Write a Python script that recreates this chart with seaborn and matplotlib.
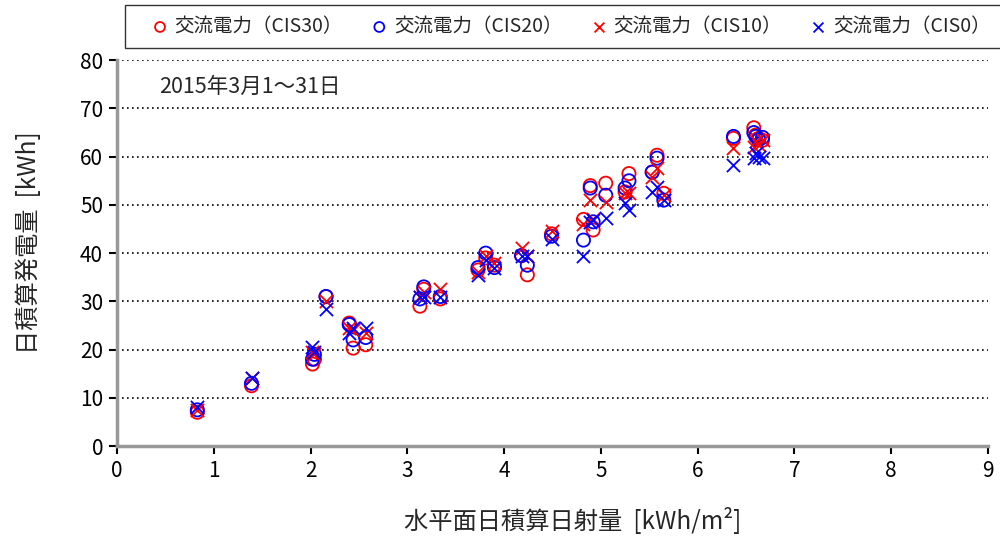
import matplotlib
matplotlib.use("Agg")
import matplotlib.pyplot as plt
import seaborn as sns
import pandas as pd

# Daily horizontal irradiation [kWh/m2], March 2015
irradiation = [0.83, 1.39, 2.02, 2.04, 2.16, 2.40, 2.44, 2.57, 3.13, 3.17, 3.34,
               3.73, 3.81, 3.90, 4.18, 4.24, 4.49, 4.82, 4.89, 4.92, 5.05, 5.25,
               5.29, 5.53, 5.58, 5.65, 6.37, 6.58, 6.60, 6.63, 6.67]
cis30 = [7.0, 12.5, 17.0, 18.0, 31.0, 25.5, 20.3, 21.0, 29.0, 32.5, 30.5,
         36.5, 39.0, 37.5, 39.5, 35.5, 44.0, 47.0, 54.0, 44.8, 54.5, 52.7,
         56.5, 56.8, 60.3, 52.4, 63.8, 66.0, 64.5, 63.8, 63.4]
cis20 = [7.5, 13.0, 18.0, 19.0, 31.0, 25.2, 22.0, 22.5, 30.5, 33.0, 31.0,
         37.0, 40.0, 37.0, 39.5, 37.5, 43.5, 42.7, 53.5, 46.5, 52.0, 53.5,
         55.0, 56.8, 59.7, 51.0, 64.2, 65.0, 64.2, 63.5, 64.0]
cis10 = [7.5, 14.0, 19.5, 19.0, 30.0, 24.5, 24.0, 23.5, 31.0, 32.0, 32.5,
         36.0, 39.5, 38.0, 41.0, 39.5, 44.5, 46.0, 51.0, 47.0, 50.6, 52.4,
         52.4, 55.8, 57.6, 52.0, 61.7, 62.0, 63.2, 62.5, 63.5]
cis0 = [8.0, 14.0, 20.5, 19.5, 28.5, 23.5, 24.5, 24.5, 31.0, 31.0, 31.0,
        35.5, 38.5, 37.0, 39.5, 39.5, 43.0, 39.5, 46.5, 46.8, 47.2, 50.4,
        49.0, 52.6, 53.7, 51.0, 58.2, 59.7, 60.7, 60.0, 59.8]

labels = ["交流電力（CIS30）", "交流電力（CIS20）", "交流電力（CIS10）", "交流電力（CIS0）"]
x_ticks = list(range(0, 10))
y_ticks = list(range(0, 90, 10))

df = pd.DataFrame({"x": irradiation, "CIS30": cis30, "CIS20": cis20,
                   "CIS10": cis10, "CIS0": cis0})

sns.set_theme(style="white")
plt.rcParams["font.family"] = ["Noto Sans CJK JP", "DejaVu Sans"]

fig = plt.figure(figsize=(10, 5.38), dpi=100)
ax = fig.add_axes([0.117, 0.171, 0.871, 0.717])

styles = [("CIS30", "o", "#FF0000"), ("CIS20", "o", "#0000FF"),
          ("CIS10", "x", "#FF0000"), ("CIS0", "x", "#0000FF")]
for (col, mk, c), lab in zip(styles, labels):
    if mk == "o":
        sns.scatterplot(data=df, x="x", y=col, ax=ax, marker="o", s=90,
                        facecolors="none", edgecolor=c, linewidth=1.3,
                        label=lab, zorder=3)
    else:
        sns.scatterplot(data=df, x="x", y=col, ax=ax, marker="x", s=90,
                        color=c, linewidth=1.3, label=lab, zorder=3)

ax.set_xlim(0, 9)
ax.set_ylim(0, 80)
ax.set_xticks(x_ticks)
ax.set_yticks(y_ticks)
ax.tick_params(axis="both", labelsize=15, colors="#000000", length=6,
               width=1.5, direction="out", bottom=True, left=True, pad=4)
for t in ax.get_xticklines() + ax.get_yticklines():
    t.set_color("#999999")
ax.yaxis.grid(True, linestyle=(0, (1, 2)), color="#000000", linewidth=1.2)
ax.xaxis.grid(False)
for s in ["top", "right"]:
    ax.spines[s].set_visible(False)
for s in ["left", "bottom"]:
    ax.spines[s].set_color("#999999")
    ax.spines[s].set_linewidth(2.5)

ax.set_xlabel("水平面日積算日射量  [kWh/m²]", fontsize=17.5)
ax.set_ylabel("日積算発電量  [kWh]", fontsize=17.5)
ax.xaxis.set_label_coords(0.523, -0.16)
ax.yaxis.set_label_coords(-0.086, 0.526)

ax.text(0.048, 0.93, "2015年3月1～31日", transform=ax.transAxes,
        fontsize=15.5, va="center", ha="left")

h, l = ax.get_legend_handles_labels()
leg = fig.legend(h, l, loc="upper left", bbox_to_anchor=(0.125, 0.99),
                 ncol=4, frameon=True, fontsize=14, markerscale=0.75,
                 handletextpad=-0.5, columnspacing=0.62, borderpad=0.55,
                 handlelength=2.5, borderaxespad=0.0, fancybox=False)
leg.get_frame().set_edgecolor("#000000")
leg.get_frame().set_linewidth(1.0)
if ax.get_legend() is not None:
    ax.get_legend().remove()

fig.savefig("out.png", dpi=100)
